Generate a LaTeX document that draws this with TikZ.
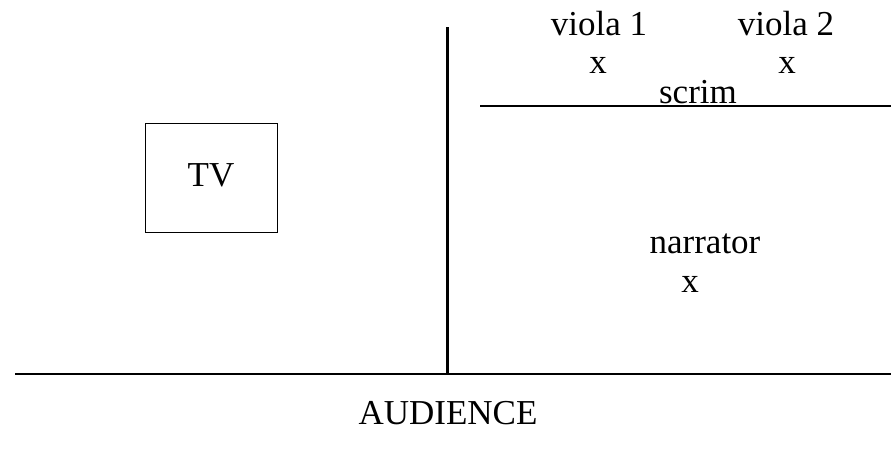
\documentclass[tikz,border=0pt]{standalone}
\usepackage{fontspec}
\setmainfont{Liberation Serif}
\begin{document}
\begin{tikzpicture}[x=1pt,y=-1pt,
  lbl/.style={anchor=base,inner sep=0pt,font=\fontsize{35}{42}\selectfont},
  thinline/.style={line width=1.8pt},
  wall/.style={line width=3.8pt},
  tvbox/.style={draw,line width=1.8pt,minimum width=132pt,minimum height=109pt,inner sep=0pt}]
\useasboundingbox (0,0) rectangle (891,456);
% stage lines
\coordinate (wallTop) at (447.5,27);
\coordinate (wallBot) at (447.5,374);
\coordinate (floorL) at (15,374);
\coordinate (floorR) at (891,374);
\coordinate (scrimL) at (480,106);
\coordinate (scrimR) at (891,106);
\draw[thinline] (floorL) -- (floorR);
\draw[thinline] (scrimL) -- (scrimR);
\draw[wall] (wallTop) -- (wallBot);
% TV
\node[tvbox] (tv) at (211.5,178) {};
\node[lbl] (tvlabel) at (211,186) {TV};
% labels
\node[lbl] (viola1) at (599,35) {viola 1};
\node[lbl] (x1) at (598,73) {x};
\node[lbl] (viola2) at (786,35) {viola 2};
\node[lbl] (x2) at (787,73) {x};
\node[lbl] (scrim) at (698,103) {scrim};
\node[lbl] (narrator) at (705,253) {narrator};
\node[lbl] (x3) at (690,292) {x};
\node[lbl] (audience) at (448,424) {AUDIENCE};
\end{tikzpicture}
\end{document}
